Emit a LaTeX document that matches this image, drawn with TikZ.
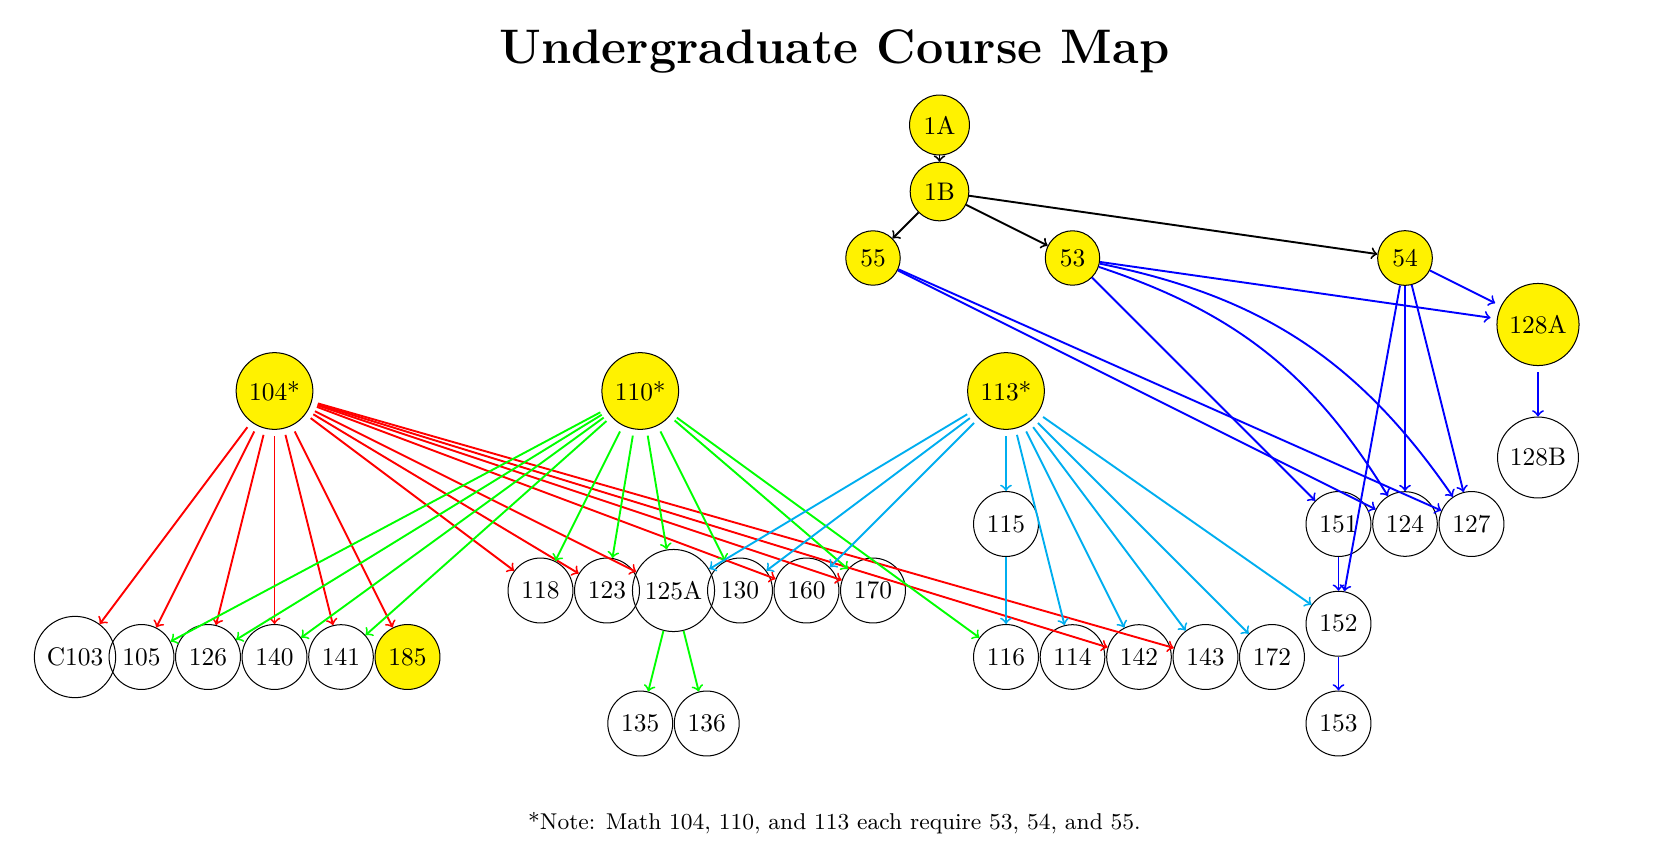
\documentclass[tikz,border=0pt]{standalone}
\definecolor{reqyellow}{RGB}{255,242,0}
\definecolor{skycyan}{RGB}{0,174,239}
\definecolor{brightgreen}{RGB}{0,255,0}
\begin{document}
\begin{tikzpicture}[x=26.18pt, y=-26.18pt,
  course/.style={circle, draw, inner sep=3.333pt},
  req/.style={course, fill=reqyellow},
  big/.style={outer sep=2.7pt},
  edge/.style={->, line width=0.75pt},
  blk/.style={edge, black},
  blu/.style={edge, blue},
  rd/.style={edge, red},
  gr/.style={edge, brightgreen},
  cy/.style={edge, skycyan}]
\useasboundingbox (-1.128,-1.880) rectangle (23.955,10.917);

\node[font=\fontsize{19.1}{23}\selectfont\bfseries, anchor=base] (title) at (11.42,-0.925) {Undergraduate Course Map};
\node[font=\small, anchor=base] (note) at (11.42,10.59) {*Note: Math 104, 110, and 113 each require 53, 54, and 55.};

% top chain
\node[req] (n1A) at (13,0) {1A};
\node[req] (n1B) at (13,1) {1B};
\node[req] (n55) at (12,2) {55};
\node[req] (n53) at (15,2) {53};
\node[req] (n54) at (20,2) {54};
\node[req,big] (n128A) at (22,3) {128A};
\node[course] (n128B) at (22,5) {128B};

% upper division gateways
\node[req,big] (n104) at (3,4) {104*};
\node[req,big] (n110) at (8.5,4) {110*};
\node[req,big] (n113) at (14,4) {113*};

% row 8 left
\node[course] (nC103) at (0,8) {C103};
\node[course] (n105) at (1,8) {105};
\node[course] (n126) at (2,8) {126};
\node[course] (n140) at (3,8) {140};
\node[course] (n141) at (4,8) {141};
\node[req] (n185) at (5,8) {185};

% row 7 middle
\node[course] (n118) at (7,7) {118};
\node[course] (n123) at (8,7) {123};
\node[course] (n125A) at (9,7) {125A};
\node[course] (n130) at (10,7) {130};
\node[course] (n160) at (11,7) {160};
\node[course] (n170) at (12,7) {170};
\node[course] (n135) at (8.5,9) {135};
\node[course] (n136) at (9.5,9) {136};

% 113 branch
\node[course] (n115) at (14,6) {115};
\node[course] (n116) at (14,8) {116};
\node[course] (n114) at (15,8) {114};
\node[course] (n142) at (16,8) {142};
\node[course] (n143) at (17,8) {143};
\node[course] (n172) at (18,8) {172};

% right cluster
\node[course] (n151) at (19,6) {151};
\node[course] (n124) at (20,6) {124};
\node[course] (n127) at (21,6) {127};
\node[course] (n152) at (19,7.5) {152};
\node[course] (n153) at (19,9) {153};

% black
\draw[blk] (n1A) -- (n1B);
\draw[blk] (n1B) -- (n55);
\draw[blk] (n1B) -- (n53);
\draw[blk] (n1B) -- (n54);

% blue
\draw[blu] (n55) -- (n124);
\draw[blu] (n55) -- (n127);
\draw[blu] (n53) -- (n151);
\draw[blu] (n53) to[bend left=20] (n124);
\draw[blu] (n53) to[bend left=22] (n127);
\draw[blu] (n53) -- (n128A);
\draw[blu] (n54) -- (n128A);
\draw[blu] (n54) -- (n152);
\draw[blu] (n54) -- (n124);
\draw[blu] (n54) -- (n127);
\draw[blu] (n128A) -- (n128B);
\draw[blu] (n151) -- (n152);
\draw[blu] (n152) -- (n153);

% red
\foreach \t in {nC103,n105,n126,n140,n141,n185,n118,n123,n125A,n160,n170,n142,n143}
  \draw[rd] (n104) -- (\t);

% green
\foreach \t in {n105,n126,n140,n141,n118,n123,n125A,n130,n170,n116}
  \draw[gr] (n110) -- (\t);
\draw[gr] (n125A) -- (n135);
\draw[gr] (n125A) -- (n136);

% cyan
\foreach \t in {n125A,n130,n160,n115,n114,n142,n143,n172,n152}
  \draw[cy] (n113) -- (\t);
\draw[cy] (n115) -- (n116);
\end{tikzpicture}
\end{document}
